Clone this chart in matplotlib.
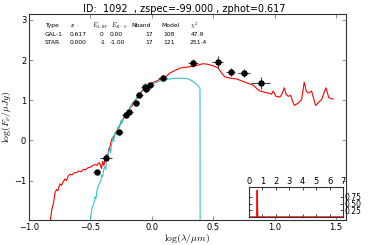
import matplotlib
matplotlib.use("Agg")
import matplotlib.pyplot as plt
import numpy as np

W, H = 368, 245

# Observed photometry
obs_x = [-0.449, -0.375, -0.267, -0.213, -0.186, -0.131, -0.102, -0.055, -0.047, -0.015,
         0.089, 0.338, 0.539, 0.642, 0.751, 0.887]
obs_y = [-0.79, -0.44, 0.21, 0.63, 0.71, 0.92, 1.14, 1.34, 1.27, 1.37,
         1.56, 1.92, 1.95, 1.71, 1.68, 1.43]
obs_xerr = [0.03, 0.05, 0.03, 0.03, 0.03, 0.03, 0.03, 0.03, 0.03, 0.03,
            0.035, 0.04, 0.045, 0.04, 0.05, 0.075]
obs_yerr = [0.03, 0.04, 0.04, 0.05, 0.05, 0.04, 0.04, 0.08, 0.05, 0.04,
            0.07, 0.10, 0.14, 0.10, 0.10, 0.15]

# GAL-1 model SED
gal_x = [-0.83, -0.815, -0.80, -0.788, -0.775, -0.765, -0.748, -0.735, -0.72, -0.707,
         -0.695, -0.68, -0.666, -0.65, -0.63, -0.612, -0.595, -0.575, -0.558, -0.54,
         -0.52, -0.503, -0.485, -0.463, -0.445, -0.43, -0.42, -0.41, -0.40, -0.39,
         -0.38, -0.37, -0.36, -0.35, -0.34, -0.327, -0.315, -0.30, -0.286, -0.275,
         -0.259, -0.245, -0.23, -0.215, -0.204, -0.19, -0.175, -0.16, -0.15, -0.135,
         -0.12, -0.096, -0.075, -0.055, -0.042, -0.02, 0.0, 0.04, 0.08, 0.121,
         0.148, 0.175, 0.2, 0.23, 0.26, 0.284, 0.31, 0.336, 0.37, 0.417,
         0.45, 0.498, 0.539, 0.569, 0.596, 0.64, 0.69, 0.718, 0.76, 0.786,
         0.824, 0.86, 0.881, 0.92, 0.963, 0.976, 0.99, 1.011, 1.044, 1.06,
         1.079, 1.095, 1.112, 1.131, 1.161, 1.193, 1.221, 1.242, 1.26, 1.275,
         1.302, 1.335, 1.36, 1.384, 1.419, 1.443, 1.478]
gal_y = [-2.1, -1.73, -1.55, -1.30, -1.22, -1.25, -1.08, -1.12, -1.02, -0.96,
         -1.00, -0.88, -0.84, -0.86, -0.80, -0.80, -0.76, -0.78, -0.72, -0.73,
         -0.68, -0.67, -0.63, -0.60, -0.62, -0.55, -0.60, -0.70, -0.52, -0.62,
         -0.48, -0.35, -0.42, -0.22, -0.15, 0.02, 0.08, 0.15, 0.23, 0.30,
         0.39, 0.45, 0.55, 0.62, 0.68, 0.72, 0.82, 0.86, 0.93, 1.00,
         1.05, 1.18, 1.25, 1.30, 1.35, 1.40, 1.43, 1.48, 1.54, 1.60,
         1.68, 1.72, 1.76, 1.80, 1.82, 1.82, 1.84, 1.84, 1.87, 1.91,
         1.90, 1.86, 1.81, 1.68, 1.58, 1.55, 1.53, 1.50, 1.45, 1.42,
         1.38, 1.28, 1.23, 1.20, 1.17, 1.15, 1.23, 1.10, 1.08, 1.15,
         1.31, 1.15, 1.10, 1.12, 0.87, 0.93, 1.02, 1.45, 1.22, 1.18,
         1.23, 0.87, 0.95, 1.02, 1.31, 1.06, 1.03]

# STAR model SED
star_x = [-0.503, -0.495, -0.489, -0.48, -0.47, -0.463, -0.455, -0.445, -0.436, -0.425,
          -0.415, -0.408, -0.40, -0.39, -0.381, -0.375, -0.367, -0.36, -0.35, -0.34,
          -0.335, -0.327, -0.315, -0.31, -0.30, -0.29, -0.273, -0.265, -0.25, -0.24,
          -0.225, -0.21, -0.2, -0.185, -0.17, -0.15, -0.13, -0.1, -0.075, -0.05,
          -0.02, 0.0, 0.035, 0.067, 0.12, 0.175, 0.23, 0.284, 0.32, 0.352,
          0.375, 0.393, 0.394]
star_y = [-2.1, -1.85, -1.73, -1.62, -1.55, -1.40, -1.45, -1.22, -1.15, -1.05,
          -1.02, -0.86, -0.90, -0.70, -0.65, -0.72, -0.40, -0.50, -0.28, -0.20,
          -0.30, -0.07, 0.05, -0.02, 0.19, 0.15, 0.35, 0.30, 0.50, 0.45,
          0.62, 0.62, 0.75, 0.75, 0.88, 0.95, 1.02, 1.15, 1.22, 1.30,
          1.36, 1.40, 1.44, 1.48, 1.52, 1.54, 1.55, 1.54, 1.50, 1.43,
          1.37, 1.29, -2.1]

# Photo-z PDF
pdf_x = [0.0, 0.58, 0.60, 0.617, 0.63, 0.65, 7.0]
pdf_y = [0.0, 0.0, 0.3, 1.0, 0.3, 0.0, 0.0]

title = "ID:  1092  , zspec=-99.000 , zphot=0.617"
table_header = ["Type", "z", r"$E_{LAW}$", r"$E_{B-V}$", "Nband", "Model", r"$\chi^2$"]
table_gal = ["GAL-1", "0.617", "0", "0.00", "17", "108", "47.9"]
table_star = ["STAR", "0.000", "-1", "-1.00", "17", "121", "251.4"]

plt.rcParams['font.family'] = ['DejaVu Sans']
plt.rcParams['mathtext.fontset'] = 'cm'

fig = plt.figure(figsize=(W / 100, H / 100), dpi=100)
ax = fig.add_axes([29 / W, 1 - 220 / H, (345.7 - 29) / W, (220 - 14.3) / H])

ax.plot(gal_x, gal_y, color='red', lw=0.8)
ax.plot(star_x, star_y, color=(0.2, 0.78, 0.78), lw=0.8)
ax.errorbar(obs_x, obs_y, xerr=obs_xerr, yerr=obs_yerr, fmt='o', color='black',
            ecolor='0.25', elinewidth=0.8, capsize=0, markersize=3.6, zorder=5)

ax.set_xlim(-1.0, 1.58)
ax.set_ylim(-1.98, 3.14)
ax.set_xticks([-1.0, -0.5, 0.0, 0.5, 1.0, 1.5])
ax.set_yticks([-1, 0, 1, 2, 3])
ax.set_yticklabels(["\u22121", "0", "1", "2", "3"])
ax.tick_params(direction='in', top=True, right=True, labelsize=6, length=3, width=0.5,
               color='0.4', pad=2)
for s in ax.spines.values():
    s.set_linewidth(0.8)
    s.set_color('0.2')
ax.set_xlabel(r"$\log(\lambda/\mu m)$", fontsize=7, labelpad=0)
ax.set_ylabel(r"$\log(F_{\nu}/\mu Jy)$", fontsize=7, labelpad=1)

fig.text(0.5, 1 - 9 / H, title, ha='center', va='center', fontsize=7)

col_h = [45, 71, 91.5, 111, 131.5, 161, 190]
col_v = [45, 69.7, 100, 110, 145, 163.3, 191]
col_s = [45, 69.7, 99.3, 109.3, 145, 163.3, 190]
for txt, xp in zip(table_header, col_h):
    fig.text(xp / W, 1 - 25.7 / H, txt, ha='left', va='center', fontsize=4.3)
for txt, xp in zip(table_gal, col_v):
    fig.text(xp / W, 1 - 34.7 / H, txt, ha='left', va='center', fontsize=4.3)
for txt, xp in zip(table_star, col_s):
    fig.text(xp / W, 1 - 42.7 / H, txt, ha='left', va='center', fontsize=4.3)

ins = fig.add_axes([249 / W, 1 - 217 / H, (343 - 249) / W, 30 / H])
ins.plot(pdf_x, pdf_y, color='red', lw=1.0)
ins.set_xlim(0, 7)
ins.set_ylim(0, 1.12)
ins.set_xticks(range(0, 8))
ins.set_yticks([0.25, 0.50, 0.75])
ins.xaxis.tick_top()
ins.yaxis.tick_right()
ins.tick_params(direction='in', labelsize=6, length=2, width=0.5, pad=1,
                top=True, bottom=True, left=True, right=True)
ins.tick_params(axis='y', labelsize=5.5)
for s in ins.spines.values():
    s.set_linewidth(0.8)
    s.set_color('0.2')
ins.set_facecolor('white')

fig.savefig("out.png", dpi=100)
